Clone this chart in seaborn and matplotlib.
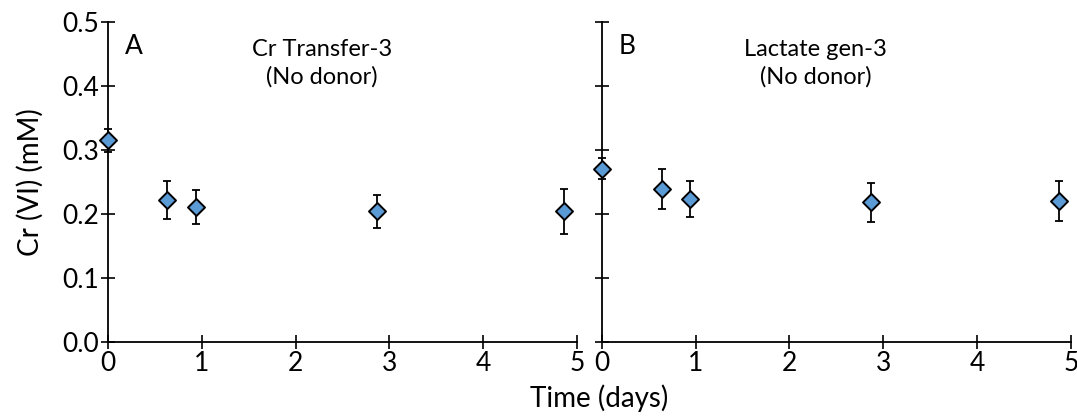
import matplotlib
matplotlib.use("Agg")
import matplotlib.pyplot as plt
import seaborn as sns
import numpy as np
import pandas as pd

# Sampling times (days)
time_a = [0.0, 0.63, 0.935, 2.865, 4.865]
time_b = [0.0, 0.64, 0.94, 2.87, 4.875]

# Cr(VI) concentration (mM) and error
cr_a = [0.315, 0.222, 0.211, 0.204, 0.204]
err_a = [0.018, 0.030, 0.026, 0.026, 0.035]
cr_b = [0.271, 0.239, 0.223, 0.218, 0.220]
err_b = [0.017, 0.032, 0.028, 0.030, 0.031]

panel_letters = ["A", "B"]
panel_titles = ["Cr Transfer-3\n(No donor)", "Lactate gen-3\n(No donor)"]
x_ticks = [0, 1, 2, 3, 4, 5]
y_ticks = [0.0, 0.1, 0.2, 0.3, 0.4, 0.5]
y_tick_labels = ["0.0", "0.1", "0.2", "0.3", "0.4", "0.5"]

sns.set_style("white")
plt.rcParams["font.family"] = ["Lato", "DejaVu Sans"]
plt.rcParams["text.color"] = "black"

fig = plt.figure(figsize=(10.77, 4.17), dpi=100)
ax_a = fig.add_axes([0.1003, 0.1799, 0.4355, 0.7674])
ax_b = fig.add_axes([0.5587, 0.1799, 0.4355, 0.7674])

fill = "#5b9bd5"
datasets = [(time_a, cr_a, err_a), (time_b, cr_b, err_b)]

for i, (ax, (t, c, e)) in enumerate(zip([ax_a, ax_b], datasets)):
    df = pd.DataFrame({"time": t, "cr": c, "err": e})
    ax.errorbar(df["time"], df["cr"], yerr=df["err"], fmt="none",
                ecolor="black", elinewidth=1.3, capsize=3.2, capthick=1.3,
                zorder=2, clip_on=False)
    sns.scatterplot(data=df, x="time", y="cr", ax=ax, marker="D", s=75,
                    color=fill, edgecolor="black", linewidth=1.4,
                    zorder=3, clip_on=False, legend=False)
    ax.set_xlim(0, 5)
    ax.set_ylim(0, 0.5)
    ax.set_xticks(x_ticks)
    ax.set_yticks(y_ticks)
    ax.set_xlabel("")
    ax.set_ylabel("")
    for side in ["top", "right"]:
        ax.spines[side].set_visible(False)
    for side in ["left", "bottom"]:
        ax.spines[side].set_linewidth(1.3)
        ax.spines[side].set_color("black")
    ax.tick_params(axis="both", direction="inout", length=9.5, width=1.2,
                   color="black", labelcolor="black", labelsize=19, pad=2,
                   bottom=True, left=True)
    ax.set_xticklabels([str(v) for v in x_ticks])
    if i == 0:
        ax.set_yticklabels(y_tick_labels)
    else:
        ax.set_yticklabels([])
    ax.text(0.18, 0.462, panel_letters[i], fontsize=19, ha="left",
            va="center")
    ax.text(2.28, 0.436, panel_titles[i], fontsize=17, ha="center",
            va="center", linespacing=1.35)

fig.text(0.028, 0.5637, "Cr (VI) (mM)", rotation=90, fontsize=20,
         ha="center", va="center")
fig.text(0.556, 0.045, "Time (days)", fontsize=20, ha="center",
         va="center")

fig.savefig("out.png", dpi=100)
